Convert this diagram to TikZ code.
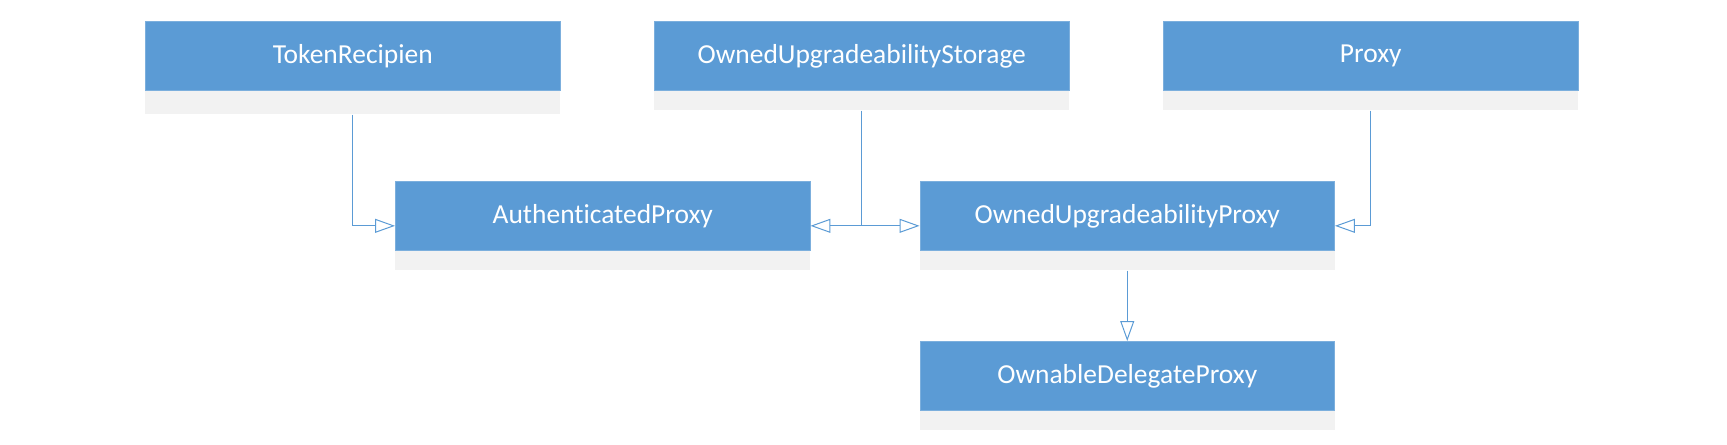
\documentclass[tikz,border=0pt]{standalone}
\usepackage{fontspec}
\setmainfont{Carlito}[RawFeature=-liga]
\usepackage{tikz}
\usetikzlibrary{arrows.meta, calc, positioning}
\definecolor{ClassBlue}{HTML}{5B9BD5}
\definecolor{BandGrey}{HTML}{F2F2F2}

\begin{document}
\begin{tikzpicture}[x=0.75pt, y=-0.75pt,
  >={Triangle[open, length=15pt, width=10.5pt]},
  cls/.style={rectangle, fill=ClassBlue, draw=ClassBlue!80!white, line width=0.6pt,
    minimum width=311pt, minimum height=52pt, inner sep=0pt, anchor=north west,
    text=white, font=\fontsize{20.6}{24}\selectfont},
  band/.style={rectangle, fill=BandGrey, minimum width=311pt, minimum height=14.25pt, inner sep=0pt},
  inh/.style={ClassBlue, line width=0.75pt, ->},
  link/.style={ClassBlue, line width=0.75pt}]
  \useasboundingbox (0,0) rectangle (1727,445);
  % top row
  \node[cls] (tok) at (145,21) {TokenRecipien};
  \node[band, minimum height=17.25pt, below=0pt of tok] (tokb) {};
  \node[cls] (ous) at (654,21) {OwnedUpgradeabilityStorage};
  \node[band, below=0pt of ous] (ousb) {};
  \node[cls] (proxy) at (1163,21) {Proxy};
  \node[band, below=0pt of proxy] (proxyb) {};
  % middle row
  \node[cls] (ap) at (395,181) {AuthenticatedProxy};
  \node[band, below=0pt of ap] (apb) {};
  \node[cls] (oup) at (919.5,181) {OwnedUpgradeabilityProxy};
  \node[band, below=0pt of oup] (oupb) {};
  % bottom row
  \node[cls] (odp) at (919.5,341) {OwnableDelegateProxy};
  \node[band, below=0pt of odp] (odpb) {};
  \coordinate (apin) at ($(ap.north)!0.5!(apb.south)$);
  \coordinate (oupin) at ($(oup.north)!0.5!(oupb.south)$);
  % inheritance
  \draw[inh] (tokb.south) |- (ap.west |- apin);
  \draw[link] (ousb.south) -- (ousb.south |- apin) coordinate (split);
  \draw[inh] (split) -- (ap.east |- apin);
  \draw[inh] (split) -- (oup.west |- oupin);
  \draw[inh] (proxyb.south) |- (oup.east |- oupin);
  \draw[inh] (oupb.south) -- (odp.north);
\end{tikzpicture}
\end{document}
